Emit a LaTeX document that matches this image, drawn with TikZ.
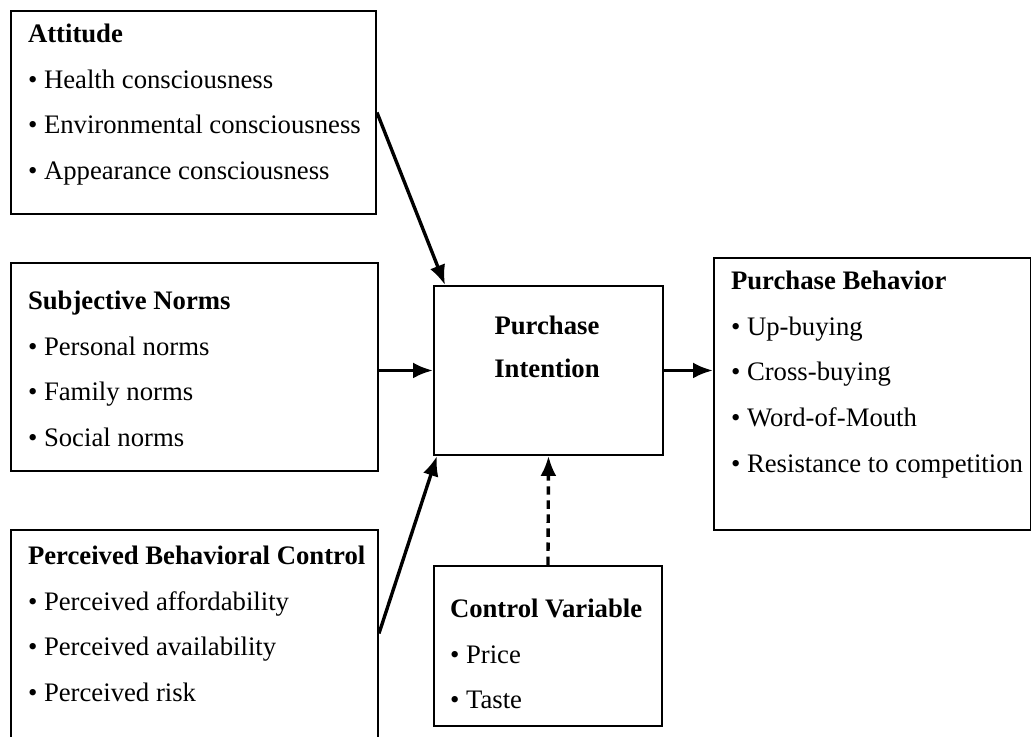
\documentclass[tikz,border=0pt]{standalone}
\usepackage{fontspec}
\setmainfont{Liberation Serif}
\usetikzlibrary{positioning,arrows.meta}
\tikzstyle{box}=[draw, rectangle, line width=1.4pt, anchor=north west, inner sep=0pt]
\tikzstyle{list}=[align=left, inner sep=0pt, outer sep=0pt, font=\fontsize{19}{32.5}\selectfont]
\tikzstyle{link}=[-{Latex[length=5mm,width=4mm]}, line width=2.4pt]
\newcommand{\itm}{\textbullet\ }

\begin{document}
\begin{tikzpicture}
  \clip (0,0) rectangle (25.775,18.425);
  \fill[white] (0,0) rectangle (25.775,18.425);

  %% The boxes
  \node[box, minimum width=9.125cm, minimum height=5.075cm] (att) at (0.25,18.175) {};
  \node[box, minimum width=9.175cm, minimum height=5.2cm] (sn) at (0.25,11.875) {};
  \node[box, minimum width=9.175cm, minimum height=5.775cm] (pbc) at (0.25,5.2) {};
  \node[box, minimum width=5.725cm, minimum height=4.225cm] (pi) at (10.825,11.3) {};
  \node[box, minimum width=5.7cm, minimum height=4cm] (cv) at (10.825,4.3) {};
  \node[box, minimum width=7.925cm, minimum height=6.8cm] (pb) at (17.825,12) {};

  %% Texts in the boxes
  \node[list, below right=0.35cm and 0.45cm of att.north west] (atttext)
    {\textbf{Attitude}\\ \itm Health consciousness\\ \itm Environmental consciousness\\ \itm Appearance consciousness};
  \node[list, below right=0.725cm and 0.45cm of sn.north west] (sntext)
    {\textbf{Subjective Norms}\\ \itm Personal norms\\ \itm Family norms\\ \itm Social norms};
  \node[list, below right=0.425cm and 0.45cm of pbc.north west] (pbctext)
    {\textbf{Perceived Behavioral Control}\\ \itm Perceived affordability\\ \itm Perceived availability\\ \itm Perceived risk};
  \node[list, align=center, font=\fontsize{19}{30.5}\selectfont\bfseries] (pitext) at (13.675,9.75)
    {Purchase\\ Intention};
  \node[list, below right=0.85cm and 0.425cm of cv.north west] (cvtext)
    {\textbf{Control Variable}\\ \itm Price\\ \itm Taste};
  \node[list, below right=0.35cm and 0.45cm of pb.north west] (pbtext)
    {\textbf{Purchase Behavior}\\ \itm Up-buying\\ \itm Cross-buying\\ \itm Word-of-Mouth\\ \itm Resistance to competition};

  %% Arrows
  \draw[link] (att.east) -- ([xshift=0.3cm]pi.north west);
  \draw[link] (sn.east |- pi.west) -- (pi.west);
  \draw[link] ([yshift=0.3cm]pbc.east) -- ([xshift=0.1cm]pi.south west);
  \draw[link] (pi.east) -- (pi.east -| pb.west);
  \draw[link, dash pattern=on 6pt off 4pt] (cv.north) -- (pi.south);
\end{tikzpicture}
\end{document}
